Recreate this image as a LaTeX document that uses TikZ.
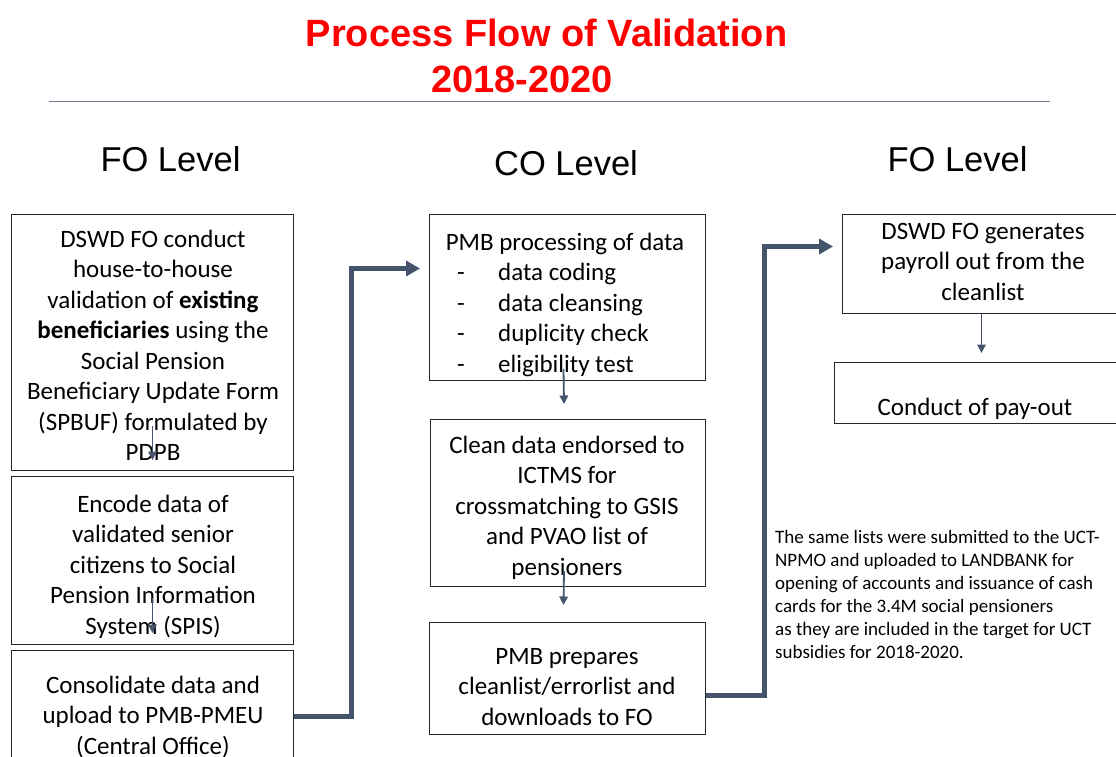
\documentclass[tikz,border=0pt]{standalone}
\usepackage{fontspec}
\setmainfont{Carlito}
\newfontfamily\arialfont{Liberation Sans}
\usetikzlibrary{arrows.meta}
\definecolor{arrowblue}{HTML}{44546A}
\definecolor{rulegray}{HTML}{6F7F96}
\definecolor{titlered}{HTML}{FF0000}
\begin{document}
\begin{tikzpicture}[x=1pt,y=1pt,
  box/.style={draw=black!85, line width=1pt, inner sep=0pt, anchor=north west},
  boxtext/.style={font=\fontsize{25}{30.5}\selectfont, align=center, anchor=base, inner sep=0pt},
  titletext/.style={font=\arialfont\bfseries\fontsize{38}{45}\selectfont, text=titlered, anchor=base, inner sep=0pt},
  hdr/.style={font=\arialfont\fontsize{34.5}{40}\selectfont, anchor=base, inner sep=0pt},
  notetext/.style={font=\fontsize{19}{23}\selectfont, align=left, anchor=base west, inner sep=0pt},
  bigarrow/.style={draw=arrowblue, line width=5pt, line join=miter, -{Triangle[length=14pt,width=15pt]}},
  smallarrow/.style={draw=arrowblue, line width=1.8pt, -{Triangle[length=8.5pt,width=8.5pt]}}
]
\useasboundingbox (0,0) rectangle (1116,-756);
\fill[white] (0,0) rectangle (1116,-756);
\clip (0,0) rectangle (1116,-756);

% title
\node[titletext] (t1) at (546.5,-46.7) {Process Flow of Validation};
\node[titletext] (t2) at (522,-92.5) {2018-2020};
\draw[rulegray, line width=1.5pt] (49,-101.5) -- (1050,-101.5);

% level headers
\node[hdr] (h1) at (170.5,-171) {FO Level};
\node[hdr] (h2) at (566,-175) {CO Level};
\node[hdr] (h3) at (957.5,-171) {FO Level};

% boxes
\node[box, minimum width=282pt, minimum height=256pt] (A) at (11,-214) {};
\node[box, minimum width=282pt, minimum height=168pt] (B) at (11,-476) {};
\node[box, minimum width=282pt, minimum height=140pt] (C) at (11,-650) {};
\node[box, minimum width=276pt, minimum height=166pt] (D) at (429,-214) {};
\node[box, minimum width=275pt, minimum height=167pt] (E) at (430,-419) {};
\node[box, minimum width=276pt, minimum height=112pt] (F) at (429,-622) {};
\node[box, minimum width=282pt, minimum height=99pt] (G) at (842,-214) {};
\node[box, minimum width=290pt, minimum height=61pt] (H) at (834,-362) {};

% box texts (anchor base = baseline of the last line)
\node[boxtext] (Atext) at (153,-460.5) {DSWD FO conduct\\house-to-house\\validation of \textbf{existing}\\\textbf{beneficiaries} using the\\Social Pension\\Beneficiary Update Form\\(SPBUF) formulated by\\PDPB};
\node[boxtext] (Btext) at (153,-634) {Encode data of\\validated senior\\citizens to Social\\Pension Information\\System (SPIS)};
\node[boxtext] (Ctext) at (153,-754) {Consolidate data and\\upload to PMB-PMEU\\(Central Office)};
\node[boxtext] (Dtext) at (565,-250) {PMB processing of data};
\node[boxtext, align=left, anchor=base west] (Dlist) at (457,-372) {\makebox[41pt][l]{-}data coding\\\makebox[41pt][l]{-}data cleansing\\\makebox[41pt][l]{-}duplicity check\\\makebox[41pt][l]{-}eligibility test};
\node[boxtext] (Etext) at (567,-575) {Clean data endorsed to\\ICTMS for\\crossmatching to GSIS\\and PVAO list of\\pensioners};
\node[boxtext] (Ftext) at (567,-725) {PMB prepares\\cleanlist/errorlist and\\downloads to FO};
\node[boxtext] (Gtext) at (983,-300) {DSWD FO generates\\payroll out from the\\cleanlist};
\node[boxtext] (Htext) at (975,-415) {Conduct of pay-out};

% note
\node[notetext] (note) at (775,-658) {The same lists were submitted to the UCT-\\NPMO and uploaded to LANDBANK for\\opening of accounts and issuance of cash\\cards for the 3.4M social pensioners\\as they are included in the target for UCT\\subsidies for 2018-2020.};

% small arrows
\draw[smallarrow] ([yshift=45pt]A.south) -- ([yshift=16pt]B.north);
\draw[smallarrow] ([yshift=47pt]B.south) -- ([yshift=17pt]C.north);
\draw[smallarrow] ([xshift=-4pt,yshift=12pt]D.south) -- ([xshift=-4pt,yshift=15pt]E.north);
\draw[smallarrow] ([xshift=-4pt,yshift=16pt]E.south) -- ([xshift=-4pt,yshift=17pt]F.north);
\draw[smallarrow] ([xshift=-2pt]G.south) -- ([xshift=-2pt,yshift=-39pt]G.south);

% big arrows
\draw[bigarrow] ([yshift=4pt]C.east) -- ++(57,0) |- ([xshift=-9pt,yshift=29pt]D.west);
\draw[bigarrow] ([yshift=-17pt]F.east) -- ++(58,0) |- ([xshift=-9pt,yshift=17.5pt]G.west);
\end{tikzpicture}
\end{document}
